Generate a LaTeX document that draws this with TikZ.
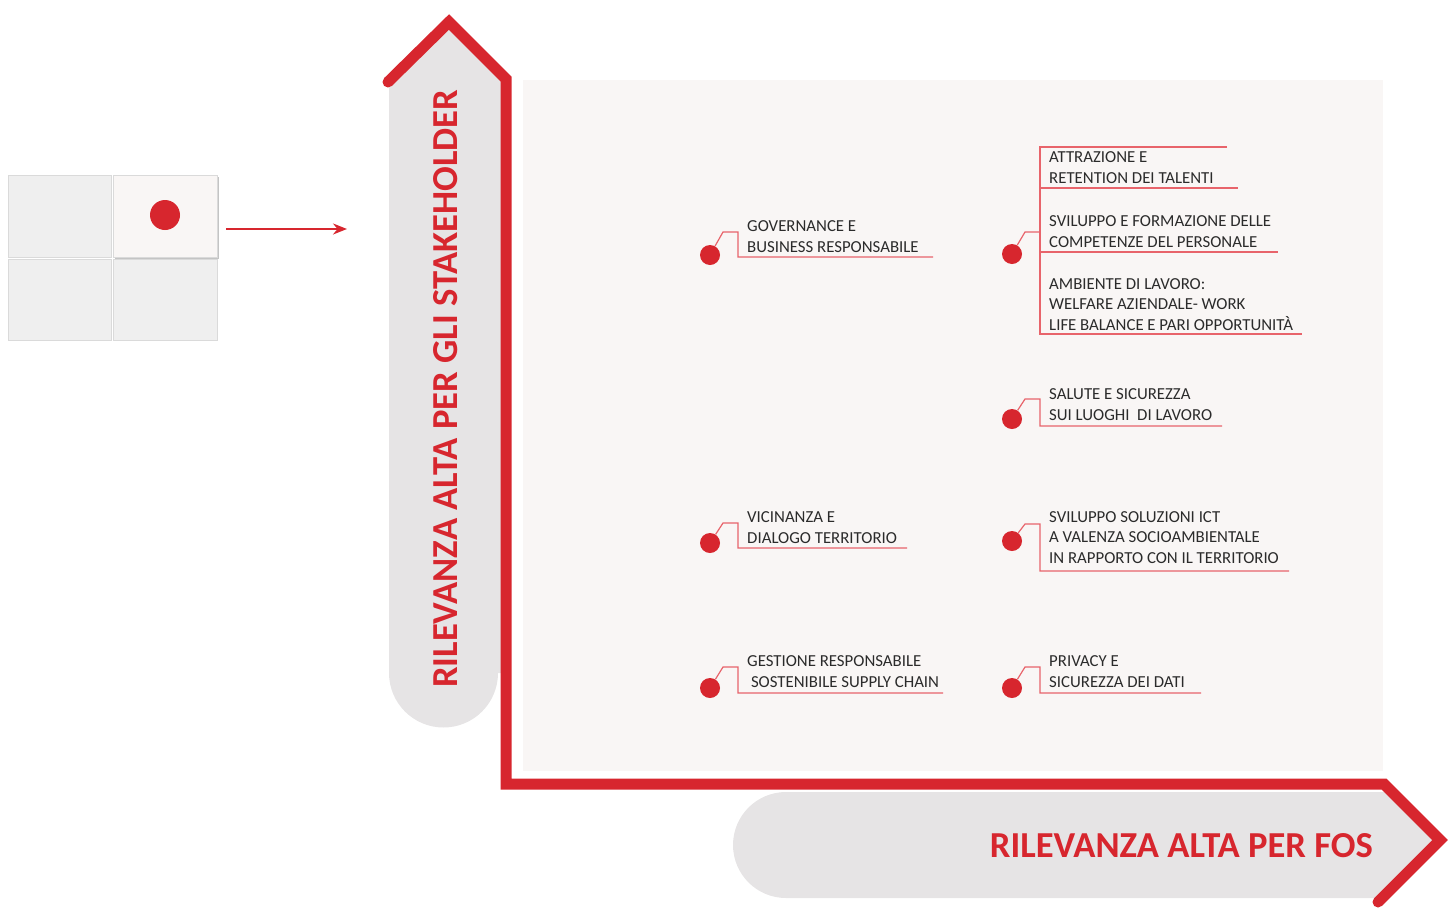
\documentclass[tikz,border=0pt]{standalone}
\usepackage{fontspec}
\setmainfont{Carlito}
\usetikzlibrary{arrows.meta}
\definecolor{fosred}{HTML}{D7262E}
\definecolor{pillgray}{HTML}{E6E4E5}
\definecolor{panelbg}{HTML}{F9F6F5}
\definecolor{cellgray}{HTML}{EFEFEF}
\definecolor{cellline}{HTML}{DADADA}
\definecolor{cellshadow}{HTML}{C4C4C4}
\definecolor{linkred}{HTML}{E8646B}
\definecolor{txtgray}{HTML}{2B2B2B}
\begin{document}
\begin{tikzpicture}[x=1pt,y=-1pt,
  dot/.style={circle,fill=fosred,inner sep=0,minimum size=20pt},
  bigdot/.style={circle,fill=fosred,inner sep=0,minimum size=30pt},
  lbl/.style={anchor=base west,inner sep=0,align=left,text=txtgray,font=\fontsize{16.8}{20.2}\selectfont},
  link/.style={draw=linkred,line width=1.2pt},
  axis/.style={draw=fosred,line width=11pt,line cap=round,line join=miter},
  axistext/.style={inner sep=0,text=fosred,font=\bfseries\fontsize{36.6}{37}\selectfont},
  cell/.style={fill=cellgray,draw=cellline,line width=1pt}]
\useasboundingbox (0,0) rectangle (1456,908);

% small matrix
\fill[cellshadow] (115,177) rectangle (219,259);
\node[cell,fill=panelbg,draw=cellline,anchor=north west,minimum width=104pt,minimum height=82pt,inner sep=0] (c12) at (113,175) {};
\node[cell,anchor=north west,minimum width=103pt,minimum height=82pt,inner sep=0] (c11) at (8,175) {};
\node[cell,anchor=north west,minimum width=103pt,minimum height=81pt,inner sep=0] (c21) at (8,259) {};
\node[cell,anchor=north west,minimum width=104pt,minimum height=81pt,inner sep=0] (c22) at (113,259) {};
\node[bigdot] (md) at (165,215) {};
\coordinate (arrS) at (226,229);
\coordinate (arrE) at (347,229);
\draw[fosred,line width=2pt,-{Stealth[length=14pt,width=11pt]}] (arrS) -- (arrE);

% panel
\fill[panelbg] (523,80) rectangle (1383,771);

% vertical pill
\fill[pillgray] (389,84) -- (449,24) -- (503,78) -- (503,673) -- (498,673)
  arc[start angle=0,end angle=180,radius=54.5] -- cycle;
% horizontal pill
\fill[pillgray] (786,898) arc[start angle=90,end angle=270,radius=53]
  -- (1384,792) -- (1438,843) -- (1383,898) -- cycle;

% axes
\coordinate (a0) at (388,82);
\coordinate (a1) at (449,22);
\coordinate (a2) at (506,79);
\coordinate (a3) at (506,784);
\coordinate (a4) at (1384,784);
\coordinate (a5) at (1440,840);
\coordinate (a6) at (1378,902);
\draw[axis] (a0) -- (a1) -- (a2) -- (a3) -- (a4) -- (a5) -- (a6);

\node[axistext,rotate=90,anchor=base west] (ytitle) at (457,688) {RILEVANZA ALTA PER GLI STAKEHOLDER};
\node[axistext,anchor=base east] (xtitle) at (1373,857) {RILEVANZA ALTA PER FOS};

% item 1
\node[dot] (d1) at (710,255) {};
\node[lbl] (t1) at (747,252) {GOVERNANCE E\\BUSINESS RESPONSABILE};
\coordinate (d1a) at (723,232); \coordinate (d1b) at (738,232);
\coordinate (d1c) at (738,257); \coordinate (d1d) at (933,257);
\draw[link] (d1) -- (d1a) -- (d1b) -- (d1c) -- (d1d);

% item 2 (group)
\node[dot] (d2) at (1012,254) {};
\node[lbl] (t2a) at (1049,183) {ATTRAZIONE E\\RETENTION DEI TALENTI};
\node[lbl] (t2b) at (1049,247) {SVILUPPO E FORMAZIONE DELLE\\COMPETENZE DEL PERSONALE};
\node[lbl] (t2c) at (1049,330) {AMBIENTE DI LAVORO:\\WELFARE AZIENDALE- WORK\\LIFE BALANCE E PARI OPPORTUNITÀ};
\coordinate (d2a) at (1025,232); \coordinate (d2b) at (1040,232);
\coordinate (v2t) at (1040,147); \coordinate (v2b) at (1040,334);
\coordinate (u2a) at (1227,147); \coordinate (u2bl) at (1040,188); \coordinate (u2b) at (1238,188);
\coordinate (u2cl) at (1040,252); \coordinate (u2c) at (1278,252); \coordinate (u2d) at (1302,334);
\draw[link] (d2) -- (d2a) -- (d2b);
\draw[link] (u2a) -- (v2t) -- (v2b) -- (u2d);
\draw[link] (u2bl) -- (u2b);
\draw[link] (u2cl) -- (u2c);

% item 3
\node[dot] (d3) at (1012,419) {};
\node[lbl] (t3) at (1049,420) {SALUTE E SICUREZZA\\SUI LUOGHI\ \ DI LAVORO};
\coordinate (d3a) at (1025,399); \coordinate (d3b) at (1040,399);
\coordinate (d3c) at (1040,426); \coordinate (d3d) at (1222,426);
\draw[link] (d3) -- (d3a) -- (d3b) -- (d3c) -- (d3d);

% item 4
\node[dot] (d4) at (710,543) {};
\node[lbl] (t4) at (747,543) {VICINANZA E\\DIALOGO TERRITORIO};
\coordinate (d4a) at (723,523); \coordinate (d4b) at (738,523);
\coordinate (d4c) at (738,548); \coordinate (d4d) at (907,548);
\draw[link] (d4) -- (d4a) -- (d4b) -- (d4c) -- (d4d);

% item 5
\node[dot] (d5) at (1012,541) {};
\node[lbl] (t5) at (1049,563) {SVILUPPO SOLUZIONI ICT\\A VALENZA SOCIOAMBIENTALE\\IN RAPPORTO CON IL TERRITORIO};
\coordinate (d5a) at (1025,524); \coordinate (d5b) at (1040,524);
\coordinate (d5c) at (1040,571); \coordinate (d5d) at (1289,571);
\draw[link] (d5) -- (d5a) -- (d5b) -- (d5c) -- (d5d);

% item 6
\node[dot] (d6) at (710,688) {};
\node[lbl] (t6) at (747,687) {GESTIONE RESPONSABILE\\\ SOSTENIBILE SUPPLY CHAIN};
\coordinate (d6a) at (723,667); \coordinate (d6b) at (738,667);
\coordinate (d6c) at (738,693); \coordinate (d6d) at (943,693);
\draw[link] (d6) -- (d6a) -- (d6b) -- (d6c) -- (d6d);

% item 7
\node[dot] (d7) at (1012,688) {};
\node[lbl] (t7) at (1049,687) {PRIVACY E\\SICUREZZA DEI DATI};
\coordinate (d7a) at (1025,667); \coordinate (d7b) at (1040,667);
\coordinate (d7c) at (1040,693); \coordinate (d7d) at (1201,693);
\draw[link] (d7) -- (d7a) -- (d7b) -- (d7c) -- (d7d);
\end{tikzpicture}
\end{document}
